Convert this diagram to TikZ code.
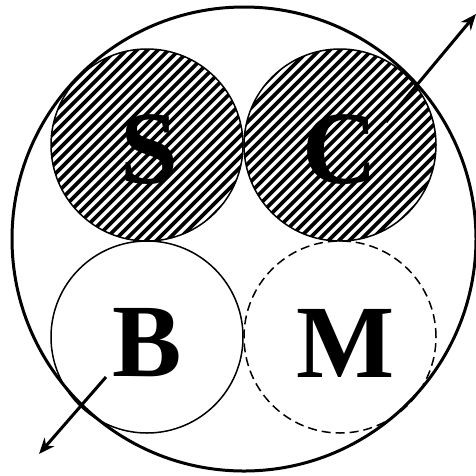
\documentclass[tikz,border=0pt]{standalone}
\usepackage{fontspec}
\setmainfont{Liberation Serif}
\usetikzlibrary{arrows.meta}
\tikzset{
  ring/.style={circle, draw, line width=1.5pt, minimum size=192pt, inner sep=0pt},
  outer/.style={circle, draw, line width=3pt, minimum size=464pt, inner sep=0pt},
  letter/.style={font=\fontsize{104}{104}\selectfont\bfseries, inner sep=0pt},
  arr/.style={line width=3pt, -{Stealth[length=16pt,width=13pt]}},
  hatch/.style={line width=3.6pt}
}
\begin{document}
\begin{tikzpicture}[x=1pt,y=-1pt]
\useasboundingbox (0,0) rectangle (476,475);
% hatching
\foreach \cx/\cy in {147/145,340/145}{
  \begin{scope}
    \clip (\cx,\cy) circle (96);
    \foreach \s in {-22,...,22}{
      \draw[hatch] ({\cx+\s*10.5-115},{\cy+115}) -- ({\cx+\s*10.5+115},{\cy-115});
    }
  \end{scope}
}
\node[outer] (U) at (244,239) {};
\node[ring] (S) at (147,145) {};
\node[ring] (C) at (340,145) {};
\node[ring] (B) at (147,337) {};
\node[ring, dash pattern=on 9pt off 5pt] (M) at (340,337) {};
\node[letter] (tS) at (149,150) {S};
\node[letter] (tC) at (340,150) {C};
\node[letter] (tB) at (147,343) {B};
\node[letter] (tM) at (346,343) {M};
\coordinate (a1) at (386,122);
\coordinate (a2) at (476,14);
\coordinate (b1) at (106,377);
\coordinate (b2) at (39,454);
\draw[arr] (a1) -- (a2);
\draw[arr] (b1) -- (b2);
\end{tikzpicture}
\end{document}
